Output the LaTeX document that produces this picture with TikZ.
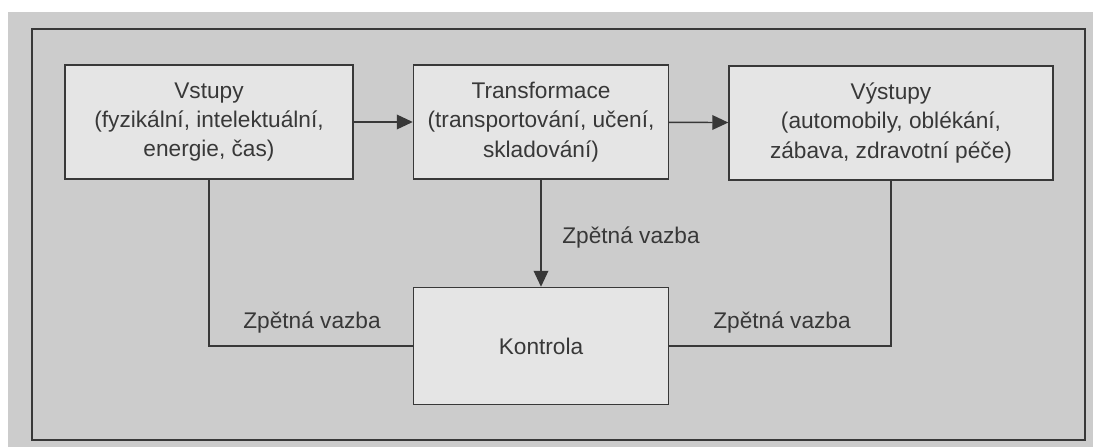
\documentclass[tikz,border=0pt]{standalone}
\usepackage{fontspec}
\setmainfont{Liberation Sans}
\usetikzlibrary{arrows.meta}
\definecolor{paper}{gray}{.80}
\definecolor{boxfill}{gray}{.90}
\definecolor{ink}{gray}{.22}
\tikzset{
  blok/.style={draw=ink,line width=1.1pt,fill=boxfill,align=center,inner sep=0pt,
    font=\fontsize{17}{22}\selectfont,text=ink},
  vazba/.style={font=\fontsize{17}{21}\selectfont,text=ink,inner sep=0pt},
  spoj/.style={draw=ink,line width=1.1pt},
  sipka/.style={spoj,-{Triangle[length=12pt,width=11pt]}}
}
\begin{document}
\begin{tikzpicture}[x=.75pt,y=-.75pt]
\useasboundingbox (0,0) rectangle (1093,447);
\fill[white] (0,0) rectangle (1093,447);
\fill[paper] (8,12) rectangle (1093,447);
\draw[ink,line width=1.3pt] (32,29) rectangle (1085,440);
\node[blok,minimum width=288*.75pt,minimum height=114*.75pt] (vst) at (209,122) {Vstupy\\(fyzikální,\ intelektuální,\\energie,\ čas)};
\node[blok,minimum width=255*.75pt,minimum height=114*.75pt] (tra) at (541,122) {Transformace\\(transportování,\ učení,\\skladování)};
\node[blok,minimum width=324*.75pt,minimum height=114*.75pt] (vys) at (891,123) {Výstupy\\(automobily,\ oblékání,\\zábava,\ zdravotní\ péče)};
\node[blok,minimum width=255*.75pt,minimum height=117*.75pt] (kon) at (541,346) {Kontrola};
\draw[sipka] (vst)--(tra);\draw[sipka] (tra)--(vys);
\draw[sipka] (tra)--(kon);
\draw[spoj] (vst.south)|-(kon.west);\draw[spoj] (vys.south)|-(kon.east);
\node[vazba] (zv1) at (631,238){Zpětná vazba};
\node[vazba] (zv2) at (312,323){Zpětná vazba};\node[vazba] (zv3) at (782,323){Zpětná vazba};
\end{tikzpicture}
\end{document}
